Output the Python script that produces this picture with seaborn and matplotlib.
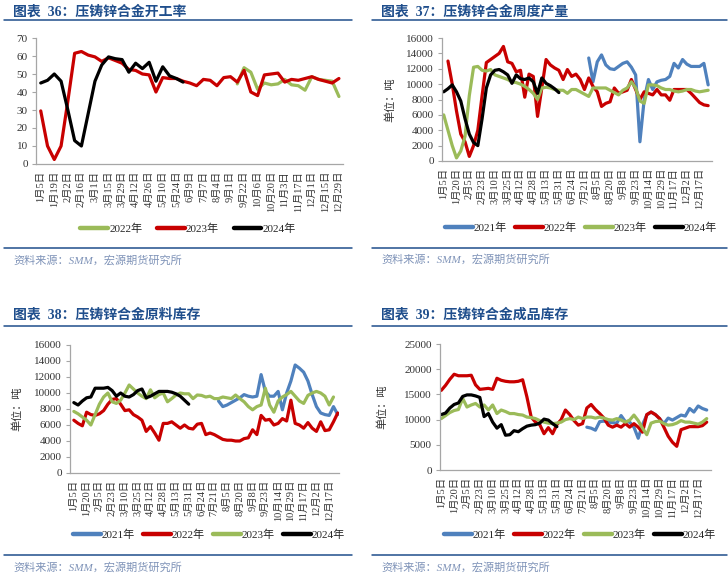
import numpy as np
import pandas as pd
import matplotlib
matplotlib.use("Agg")
import matplotlib.pyplot as plt
import seaborn as sns
from matplotlib.lines import Line2D

sns.set_theme(style="white")
plt.rcParams['font.family'] = ['Liberation Serif', 'Noto Sans CJK SC']
plt.rcParams['axes.unicode_minus'] = False

# ---------------- data ----------------
# Panel 36: operating rate (%)
p1_labels = ['1月5日', '1月19日', '2月2日', '2月16日', '3月1日', '3月15日', '3月29日', '4月12日',
             '4月26日', '5月10日', '5月24日', '6月9日', '7月7日', '8月4日', '9月1日', '9月22日',
             '10月6日', '10月20日', '11月3日', '11月17日', '12月1日', '12月15日', '12月29日']
p1_2022 = [None] * 29 + [44.5, 53.5, 51, 41.5, 45, 44, 44.5, 47, 44, 43.5, 41, 48.5, 47, 46.5, 46, 37.5]
p1_2023 = [29.5, 10, 2.5, 10, 35, 61.5, 62.5, 60.5, 59.5, 57, 59, 57.5, 56, 52.5, 52, 50, 49.5, 40,
           48, 47.5, 47.5, 46, 45, 43.5, 47, 46.5, 43.5, 48, 48.5, 45.5, 52, 40, 38, 49.5, 50, 50.5,
           45.5, 47, 46.5, 47.5, 48.5, 47, 46, 45, 47.5]
p1_2024 = [45, 46.5, 50, 46, 30, 13, 10, 28, 46, 55, 59.5, 58.5, 58, 51, 56, 53, 56.5, 46, 54, 49,
           47.5, 45.5]

# Shared category labels for panels 37-39
wk_labels = ['1月5日', '1月20日', '2月5日', '2月23日', '3月10日', '3月25日', '4月12日', '4月28日',
             '5月13日', '5月31日', '6月24日', '7月21日', '8月5日', '8月20日', '9月8日', '9月23日',
             '10月14日', '10月29日', '11月17日', '12月2日', '12月17日']

# Panel 37: weekly output (thousand tonnes)
p2_2021 = [None] * 34 + [13.4, 10.3, 12.9, 13.8, 12.5, 12.0, 11.9, 12.3, 12.7, 12.9, 12.2, 11.2, 2.5,
                         8.0, 10.6, 9.3, 10.3, 10.5, 10.6, 11.0, 12.7, 12.1, 13.2, 12.6, 12.3, 12.3,
                         12.3, 12.7, 9.9]
p2_2022 = [None, 13.0, 10.0, 6.5, 3.5, 2.5, 0.6, 2.0, 4.0, 8.5, 12.8, 13.2, 13.6, 14.0, 14.9, 12.9,
           12.7, 11.6, 11.8, 8.3, 11.3, 11.0, 5.8, 9.5, 13.2, 12.5, 12.1, 11.8, 10.6, 11.9, 11.0,
           11.3, 10.6, 9.3, 10.8, 9.7, 9.0, 7.1, 7.5, 7.7, 9.5, 8.8, 9.0, 9.2, 10.6, 9.3, 8.0, 9.0,
           8.8, 8.6, 9.3, 8.6, 8.6, 7.9, 9.3, 9.3, 9.3, 9.3, 8.8, 8.2, 7.6, 7.3, 7.2]
p2_2023 = [6.0, 4.0, 2.0, 0.4, 1.3, 3.2, 8.5, 12.2, 12.3, 11.8, 11.7, 11.9, 11.2, 11.0, 10.8, 10.6,
           10.3, 10.2, 10.0, 9.7, 9.3, 8.8, 8.0, 9.5, 9.6, 9.5, 9.3, 9.2, 9.2, 8.8, 9.3, 9.3, 9.0,
           8.7, 8.4, 9.5, 9.5, 9.5, 9.5, 9.2, 8.9, 8.6, 9.2, 9.5, 10.3, 9.5, 7.8, 7.5, 9.9, 9.9,
           9.8, 9.5, 9.3, 9.3, 9.1, 9.0, 9.1, 9.3, 9.3, 9.1, 9.0, 9.1, 9.2]
p2_2024 = [9.0, 9.4, 9.9, 9.0, 7.8, 5.5, 3.5, 2.4, 2.0, 5.5, 9.5, 11.2, 11.8, 11.9, 11.6, 11.2,
           10.1, 11.2, 10.7, 10.6, 10.8, 10.3, 8.8, 10.8, 10.1, 9.8, 9.4, 8.9]

# Panel 38: raw material inventory (thousand tonnes)
p3_2021 = [None] * 34 + [9.0, 8.3, 8.5, 8.8, 9.1, 9.4, 9.8, 9.6, 9.5, 9.6, 12.3, 10.2, 9.6, 9.6,
                         10.2, 7.9, 10.0, 11.5, 13.5, 13.1, 12.6, 11.5, 9.8, 8.3, 7.5, 7.3, 7.2,
                         8.3, 7.3]
p3_2022 = [6.6, 6.2, 5.9, 7.6, 7.3, 7.2, 7.4, 7.8, 8.6, 9.2, 9.3, 8.6, 7.8, 7.9, 7.3, 7.0, 6.6,
           5.2, 5.8, 5.0, 4.1, 6.2, 6.2, 6.4, 6.0, 5.6, 6.0, 5.6, 5.5, 6.1, 6.2, 4.8, 5.0, 4.8,
           4.5, 4.2, 4.1, 4.1, 4.0, 4.0, 4.3, 4.4, 5.4, 4.8, 7.2, 6.6, 6.7, 6.0, 6.2, 6.8, 6.5,
           9.1, 6.2, 6.0, 5.6, 6.3, 5.6, 5.2, 6.4, 5.3, 5.4, 6.4, 7.5]
p3_2023 = [7.7, 7.4, 7.0, 6.6, 6.0, 7.3, 8.6, 9.5, 10.0, 8.9, 8.7, 9.1, 10.0, 11.0, 10.5, 10.0,
           9.6, 9.3, 10.4, 9.4, 9.8, 10.0, 8.9, 9.3, 9.75, 10.0, 9.9, 9.9, 9.3, 9.75, 9.7, 9.5,
           9.6, 9.3, 9.3, 9.5, 9.4, 9.3, 9.75, 9.3, 8.9, 8.3, 7.9, 8.3, 8.5, 10.6, 8.5, 7.6, 9.0,
           9.5, 9.8, 10.2, 9.6, 9.0, 8.7, 9.7, 10.0, 10.2, 10.0, 9.6, 8.5, 9.5]
p3_2024 = [8.8, 8.5, 9.0, 9.4, 9.5, 10.6, 10.6, 10.6, 10.7, 10.3, 9.6, 10.0, 9.6, 9.5, 9.8, 10.3,
           10.5, 9.4, 9.6, 9.9, 10.2, 10.2, 10.2, 10.1, 9.9, 9.6, 9.1, 8.6]

# Panel 39: finished goods inventory (thousand tonnes)
p4_2021 = [None] * 34 + [8.5, 8.3, 7.9, 9.6, 9.7, 9.5, 9.4, 9.3, 10.8, 9.6, 9.5, 8.5, 6.3, 9.0,
                         10.9, 11.5, 11.0, 10.2, 9.2, 10.3, 9.9, 10.4, 10.9, 10.7, 12.2, 11.5, 12.7,
                         12.2, 11.9]
p4_2022 = [15.8, 16.8, 18.0, 19.0, 18.7, 18.7, 18.7, 18.8, 16.9, 16.0, 16.1, 16.2, 16.0, 18.2,
           17.8, 17.6, 17.5, 17.5, 17.6, 17.9, 14.5, 10.5, 9.5, 9.0, 7.2, 8.4, 7.2, 9.0, 10.0,
           11.9, 11.0, 9.8, 8.9, 9.2, 12.3, 13.0, 12.0, 11.2, 10.3, 8.9, 8.5, 8.9, 8.5, 9.2, 8.5,
           9.2, 8.5, 7.5, 11.0, 11.5, 11.0, 10.2, 8.5, 6.7, 5.5, 4.7, 8.0, 8.3, 8.6, 8.6, 8.6,
           8.8, 9.5]
p4_2023 = [10.2, 10.8, 11.4, 11.8, 12.0, 14.2, 12.5, 12.9, 13.2, 12.5, 12.9, 11.9, 12.9, 11.2,
           11.9, 11.6, 11.2, 11.2, 11.0, 10.9, 10.5, 10.4, 10.2, 9.8, 9.5, 9.3, 9.2, 9.3, 9.5,
           10.0, 10.2, 10.0, 10.5, 10.2, 10.5, 10.5, 10.3, 10.5, 10.3, 10.0, 9.9, 10.2, 9.9, 9.5,
           9.9, 10.9, 9.8, 8.3, 7.0, 9.3, 9.6, 9.7, 9.2, 8.9, 9.0, 9.3, 9.8, 9.5, 9.5, 9.3, 9.1,
           9.5, 10.2]
p4_2024 = [11.0, 11.3, 12.3, 13.0, 13.3, 14.6, 14.9, 14.9, 14.7, 14.4, 10.6, 11.2, 9.5, 8.3, 9.0,
           6.9, 7.0, 7.8, 7.6, 8.2, 8.7, 8.9, 9.0, 9.3, 10.1, 9.9, 9.2, 8.6]

BLUE, RED, GREEN, BLACK = '#4F81BD', '#C80000', '#9BBB59', '#000000'
TITLE_C = '#1F4E8C'
SRC_C = '#7F93B8'
TICK_C = '#333333'
SPINE_C = '#A6A6A6'

W, H = 728, 573
fig = plt.figure(figsize=(W / 100, H / 100), dpi=100)


def fx(px):
    return px / W


def fy(py):
    return 1 - py / H


def add_axes(l, r, t, b):
    return fig.add_axes([fx(l), fy(b), fx(r) - fx(l), (b - t) / H])


def draw(ax, series, palette, labels, n, step, xlim, ymax, ystep, scale=1.0):
    rows = []
    for name, vals in series.items():
        for i, v in enumerate(vals):
            if v is not None:
                rows.append((i, v * scale, name))
    df = pd.DataFrame(rows, columns=['x', 'y', 'year'])
    sns.lineplot(data=df, x='x', y='y', hue='year', hue_order=list(series.keys()),
                 palette=palette, ax=ax, legend=False, linewidth=2.3, estimator=None)
    ax.set_xlim(*xlim)
    ax.set_ylim(0, ymax)
    ax.set_yticks(np.arange(0, ymax + 1, ystep))
    ax.set_xticks(range(0, n, step))
    ax.set_xticklabels(labels, rotation=90, fontsize=7.5, color=TICK_C)
    ax.tick_params(axis='x', length=0, pad=5)
    ax.tick_params(axis='y', left=True, length=3, width=0.8, color=SPINE_C, labelsize=8,
                   labelcolor=TICK_C, pad=3)
    ax.set_xlabel('')
    ax.set_ylabel('')
    for s in ['top', 'right']:
        ax.spines[s].set_visible(False)
    for s in ['left', 'bottom']:
        ax.spines[s].set_color(SPINE_C)
        ax.spines[s].set_linewidth(0.9)
    ax.set_facecolor('white')


def decorate(x0, x1, title_y, line_y, bot_y, src_y, title, legend_items, leg_x, leg_y, colspace):
    fig.text(fx(x0 + 9), fy(title_y), title, fontsize=10, fontweight='bold', color=TITLE_C,
             va='center', ha='left')
    fig.add_artist(Line2D([fx(x0), fx(x1)], [fy(line_y), fy(line_y)], transform=fig.transFigure,
                          color=TITLE_C, lw=1.1))
    fig.add_artist(Line2D([fx(x0), fx(x1)], [fy(bot_y), fy(bot_y)], transform=fig.transFigure,
                          color=TITLE_C, lw=1.1))
    fig.text(fx(x0 + 9), fy(src_y), '资料来源：SMM，宏源期货研究所', fontsize=8, style='italic',
             color=SRC_C, va='center', ha='left')
    handles = [Line2D([], [], color=c, lw=3.2) for _, c in legend_items]
    labs = [l for l, _ in legend_items]
    fig.legend(handles, labs, loc='center', bbox_to_anchor=(fx(leg_x), fy(leg_y)),
               bbox_transform=fig.transFigure, ncol=len(labs), frameon=False, fontsize=8,
               handlelength=2.5, handletextpad=0.12, columnspacing=colspace, borderpad=0.2)


# Panel 36
ax1 = add_axes(36, 343, 38, 164)
draw(ax1, {'2022年': p1_2022, '2023年': p1_2023, '2024年': p1_2024},
     {'2022年': GREEN, '2023年': RED, '2024年': BLACK}, p1_labels, 45, 2, (-0.7, 44.6), 70, 10)
decorate(4, 352, 12, 20, 248, 260, '图表  36：压铸锌合金开工率',
         [('2022年', GREEN), ('2023年', RED), ('2024年', BLACK)], 188, 229, 1.3)

# Panel 37
ax2 = add_axes(442, 712, 38, 161)
draw(ax2, {'2021年': p2_2021, '2022年': p2_2022, '2023年': p2_2023, '2024年': p2_2024},
     {'2021年': BLUE, '2022年': RED, '2023年': GREEN, '2024年': BLACK},
     wk_labels, 63, 3, (-0.4, 62.9), 16000, 2000, scale=1000)
ax2.set_ylabel('单位：吨', fontsize=8, color=TICK_C)
ax2.yaxis.set_label_coords(-0.171, 0.5)
decorate(372, 727, 12, 20, 248, 259, '图表  37：压铸锌合金周度产量',
         [('2021年', BLUE), ('2022年', RED), ('2023年', GREEN), ('2024年', BLACK)], 581, 228, 0.7)

# Panel 38
ax3 = add_axes(70, 339, 345, 473)
draw(ax3, {'2021年': p3_2021, '2022年': p3_2022, '2023年': p3_2023, '2024年': p3_2024},
     {'2021年': BLUE, '2022年': RED, '2023年': GREEN, '2024年': BLACK},
     wk_labels, 63, 3, (-0.9, 62.3), 16000, 2000, scale=1000)
ax3.set_ylabel('单位：吨', fontsize=8, color=TICK_C)
ax3.yaxis.set_label_coords(-0.178, 0.5)
decorate(4, 352, 315, 326, 555, 567, '图表  38：压铸锌合金原料库存',
         [('2021年', BLUE), ('2022年', RED), ('2023年', GREEN), ('2024年', BLACK)], 209, 535, 0.7)

# Panel 39
ax4 = add_axes(440, 711, 344, 470)
draw(ax4, {'2021年': p4_2021, '2022年': p4_2022, '2023年': p4_2023, '2024年': p4_2024},
     {'2021年': BLUE, '2022年': RED, '2023年': GREEN, '2024年': BLACK},
     wk_labels, 63, 3, (-0.3, 63.0), 25000, 5000, scale=1000)
ax4.set_ylabel('单位：吨', fontsize=8, color=TICK_C)
ax4.yaxis.set_label_coords(-0.196, 0.5)
decorate(372, 727, 315, 326, 555, 567, '图表  39：压铸锌合金成品库存',
         [('2021年', BLUE), ('2022年', RED), ('2023年', GREEN), ('2024年', BLACK)], 580, 535, 0.7)

fig.savefig('out.png', dpi=100, facecolor='white')
